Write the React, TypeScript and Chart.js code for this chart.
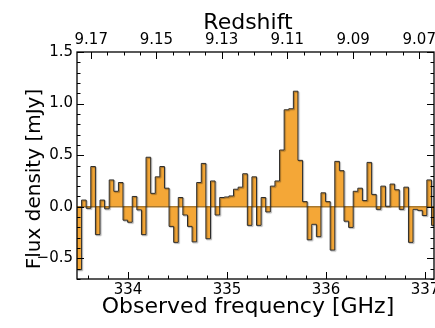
import React, { useEffect, useRef } from 'react';
import { Chart, registerables } from 'chart.js';

Chart.register(...registerables);

// ---- data -------------------------------------------------------------
const REST_FREQ_GHZ = 3393.006; // [OIII] 88 micron
const CHANNEL_START_GHZ = 333.485; // left edge of first channel
const CHANNEL_WIDTH_GHZ = 0.0465;
const FLUX_MJY = [
  -0.61, 0.065, -0.015, 0.39, -0.27, 0.065, -0.02, 0.26, 0.15, 0.235,
  -0.13, -0.15, 0.1, -0.03, -0.27, 0.48, 0.13, 0.29, 0.39, 0.18,
  -0.19, -0.345, 0.09, -0.08, -0.19, -0.34, 0.235, 0.42, -0.31, 0.25,
  -0.08, 0.09, 0.095, 0.105, 0.17, 0.19, 0.32, -0.18, 0.29, -0.18,
  0.09, -0.05, 0.2, 0.25, 0.55, 0.94, 0.95, 1.12, 0.45, 0.05,
  -0.32, -0.17, -0.29, 0.135, 0.05, -0.42, 0.44, 0.35, -0.14, -0.2,
  0.15, 0.18, 0.06, 0.43, 0.12, -0.025, 0.2, 0.005, 0.22, 0.165,
  -0.025, 0.19, -0.345, -0.025, -0.035, -0.085, 0.26, -0.18,
];
const X_MIN = 333.485;
const X_MAX = 337.091;
const Y_MIN = -0.7;
const Y_MAX = 1.5;
const FREQ_TICKS = [333.6, 333.8, 334.0, 334.2, 334.4, 334.6, 334.8, 335.0, 335.2, 335.4, 335.6, 335.8, 336.0, 336.2, 336.4, 336.6, 336.8, 337.0];
const FREQ_LABELS = ['334', '335', '336', '337'];
const FLUX_TICKS = [-0.7, -0.6, -0.5, -0.4, -0.3, -0.2, -0.1, 0, 0.1, 0.2, 0.3, 0.4, 0.5, 0.6, 0.7, 0.8, 0.9, 1.0, 1.1, 1.2, 1.3, 1.4, 1.5];
const FLUX_LABELS = ['\u22120.5', '0.0', '0.5', '1.0', '1.5'];
const REDSHIFT_TICKS = [9.17, 9.165, 9.16, 9.155, 9.15, 9.145, 9.14, 9.135, 9.13, 9.125, 9.12, 9.115, 9.11, 9.105, 9.1, 9.095, 9.09, 9.085, 9.08, 9.075, 9.07];
const REDSHIFT_LABELS = ['9.17', '9.15', '9.13', '9.11', '9.09', '9.07'];
const X_TITLE = 'Observed frequency [GHz]';
const X_TOP_TITLE = 'Redshift';
const Y_TITLE = 'Flux density [mJy]';

// ---- helpers ----------------------------------------------------------
const fmtFlux = (v: number) => (v < 0 ? '\u2212' : '') + Math.abs(v).toFixed(1);
const zToFreq = (z: number) => REST_FREQ_GHZ / (1 + z);
const isInt = (v: number) => Math.abs(v - Math.round(v)) < 1e-6;
const freqLabel = (f: number) => (isInt(f) && FREQ_LABELS.includes(String(Math.round(f))) ? String(Math.round(f)) : '');
const zLabel = (z: number) => (isInt(z * 100) && REDSHIFT_LABELS.includes(z.toFixed(2)) ? z.toFixed(2) : '');
const fluxLabel = (v: number) => (isInt(v * 2) && FLUX_LABELS.includes(fmtFlux(v)) ? fmtFlux(v) : '');

const FONT = 'DejaVu Sans';

const frameTicks = {
  id: 'frameTicks',
  afterDraw(chart: any) {
    const { ctx, chartArea: a, scales } = chart;
    const x = scales.x;
    const y = scales.y;
    ctx.save();
    ctx.strokeStyle = '#000';
    ctx.lineWidth = 1;
    ctx.beginPath();
    FREQ_TICKS.forEach((f) => {
      const px = Math.round(x.getPixelForValue(f)) + 0.5;
      const len = freqLabel(f) ? 7 : 3.5;
      ctx.moveTo(px, a.bottom);
      ctx.lineTo(px, a.bottom - len);
    });
    REDSHIFT_TICKS.forEach((z) => {
      const px = Math.round(x.getPixelForValue(zToFreq(z))) + 0.5;
      const len = zLabel(z) ? 7 : 3.5;
      ctx.moveTo(px, a.top);
      ctx.lineTo(px, a.top + len);
    });
    FLUX_TICKS.forEach((v) => {
      const py = Math.round(y.getPixelForValue(v)) + 0.5;
      const len = fluxLabel(v) ? 7 : 3.5;
      ctx.moveTo(a.left, py);
      ctx.lineTo(a.left + len, py);
      ctx.moveTo(a.right, py);
      ctx.lineTo(a.right - len, py);
    });
    ctx.stroke();
    ctx.lineWidth = 1.3;
    ctx.strokeRect(a.left, a.top, a.right - a.left, a.bottom - a.top);

    // axis titles
    ctx.fillStyle = '#000';
    ctx.textAlign = 'center';
    ctx.textBaseline = 'alphabetic';
    ctx.font = `22px "${FONT}"`;
    ctx.fillText(X_TITLE, 248, 313);
    ctx.fillText(X_TOP_TITLE, 248, 29);
    ctx.save();
    ctx.translate(40, 179);
    ctx.rotate(-Math.PI / 2);
    ctx.font = `20px "${FONT}"`;
    ctx.fillText(Y_TITLE, 0, 0);
    ctx.restore();
    ctx.restore();
  },
};

const outlineShadow = {
  id: 'outlineShadow',
  beforeDatasetDraw(chart: any, args: any) {
    if (chart.data.datasets[args.index].label !== 'outline') return;
    const ctx = chart.ctx;
    ctx.save();
    ctx.shadowColor = 'rgba(0,0,0,0.35)';
    ctx.shadowOffsetX = 1;
    ctx.shadowOffsetY = 1;
    ctx.shadowBlur = 1;
  },
  afterDatasetDraw(chart: any, args: any) {
    if (chart.data.datasets[args.index].label !== 'outline') return;
    chart.ctx.restore();
  },
};

export default function App() {
  const ref = useRef<HTMLCanvasElement | null>(null);

  useEffect(() => {
    document.body.style.margin = '0';
    if (!ref.current) return;
    Chart.defaults.font.family = FONT;
    Chart.defaults.color = '#000';

    // points at the left edge of each channel, plus the right edge of the last one
    const pts = FLUX_MJY.map((v, i) => ({ x: CHANNEL_START_GHZ + i * CHANNEL_WIDTH_GHZ, y: v }));
    pts.push({ x: CHANNEL_START_GHZ + FLUX_MJY.length * CHANNEL_WIDTH_GHZ, y: FLUX_MJY[FLUX_MJY.length - 1] });

    const chart = new Chart(ref.current, {
      type: 'line',
      data: {
        datasets: [
          {
            label: 'outline',
            data: pts,
            stepped: 'before',
            borderColor: '#2b2b2b',
            borderWidth: 1,
            pointRadius: 0,
            fill: false,
            clip: 0,
            order: 0,
          } as any,
          {
            label: 'zero',
            data: [{ x: X_MIN, y: 0 }, { x: X_MAX, y: 0 }],
            borderColor: '#a8782e',
            borderWidth: 1.6,
            pointRadius: 0,
            fill: false,
            clip: 0,
            order: 1,
          } as any,
          {
            label: 'fill',
            data: pts,
            stepped: 'before',
            borderWidth: 0,
            borderColor: 'rgba(0,0,0,0)',
            backgroundColor: '#f4a737',
            pointRadius: 0,
            fill: 'origin',
            clip: 0,
            order: 2,
          } as any,
        ],
      },
      options: {
        animation: false,
        responsive: false,
        events: [],
        layout: { padding: { right: 1, left: 0, top: 0, bottom: 0 } },
        plugins: { legend: { display: false }, tooltip: { enabled: false } },
        scales: {
          x: {
            type: 'linear',
            position: 'bottom',
            min: X_MIN,
            max: X_MAX,
            grid: { display: false, drawTicks: false },
            border: { display: false },
            afterBuildTicks: (s: any) => {
              s.ticks = FREQ_TICKS.map((v) => ({ value: v }));
            },
            afterFit: (s: any) => {
              s.height = 49;
              s.paddingLeft = 0;
              s.paddingRight = 0;
            },
            ticks: {
              autoSkip: false,
              maxRotation: 0,
              padding: 2,
              font: { size: 15 },
              callback: (v: any) => freqLabel(Number(v)),
            },
          },
          xTop: {
            type: 'linear',
            position: 'top',
            min: X_MIN,
            max: X_MAX,
            grid: { display: false, drawTicks: false },
            border: { display: false },
            afterBuildTicks: (s: any) => {
              s.ticks = REDSHIFT_TICKS.map((z) => ({ value: zToFreq(z), z }));
            },
            afterFit: (s: any) => {
              s.height = 52;
              s.paddingLeft = 0;
              s.paddingRight = 0;
            },
            ticks: {
              autoSkip: false,
              maxRotation: 0,
              padding: 3,
              font: { size: 15 },
              callback: (_v: any, i: number, ticks: any[]) => zLabel(ticks[i].z as number),
            },
          },
          y: {
            type: 'linear',
            position: 'left',
            min: Y_MIN,
            max: Y_MAX,
            grid: { display: false, drawTicks: false },
            border: { display: false },
            afterBuildTicks: (s: any) => {
              s.ticks = FLUX_TICKS.map((v) => ({ value: v }));
            },
            afterFit: (s: any) => {
              s.width = 77;
              s.paddingTop = 0;
              s.paddingBottom = 0;
            },
            ticks: {
              autoSkip: false,
              padding: 4,
              font: { size: 15 },
              callback: (v: any) => fluxLabel(Number(v)),
            },
          },
        },
      },
      plugins: [frameTicks, outlineShadow],
    } as any);

    return () => chart.destroy();
  }, []);

  return <canvas ref={ref} width={435} height={328} style={{ display: 'block' }} />;
}
